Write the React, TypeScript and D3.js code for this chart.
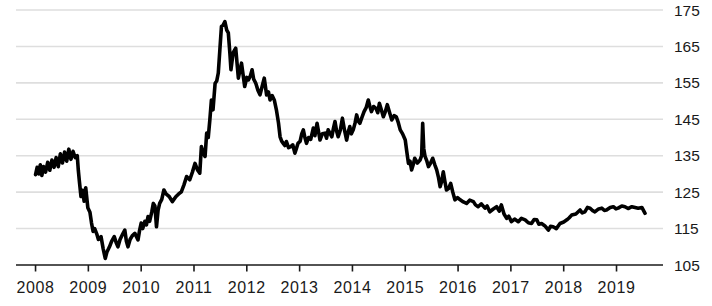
import React from "react";
import * as d3 from "d3";

// Decimal-year time stamps and index values
const dates: number[] = [
  2008.00, 2008.03, 2008.06, 2008.09, 2008.12, 2008.15, 2008.19, 2008.23, 2008.27, 2008.31,
  2008.35, 2008.39, 2008.43, 2008.47, 2008.51, 2008.55, 2008.59, 2008.63, 2008.67, 2008.71,
  2008.75, 2008.79, 2008.81, 2008.83, 2008.86, 2008.89, 2008.92, 2008.95, 2008.99, 2009.03,
  2009.06, 2009.09, 2009.12, 2009.16, 2009.19, 2009.24, 2009.28, 2009.32, 2009.35, 2009.40,
  2009.44, 2009.49, 2009.53, 2009.56, 2009.60, 2009.65, 2009.69, 2009.72, 2009.75, 2009.79,
  2009.83, 2009.88, 2009.94, 2009.97, 2010.00, 2010.03, 2010.07, 2010.10, 2010.13, 2010.16,
  2010.20, 2010.23, 2010.26, 2010.29, 2010.32, 2010.35, 2010.39, 2010.43, 2010.47, 2010.53,
  2010.59, 2010.62, 2010.66, 2010.71, 2010.76, 2010.81, 2010.86, 2010.92, 2010.97, 2011.02,
  2011.07, 2011.11, 2011.14, 2011.18, 2011.21, 2011.24, 2011.27, 2011.30, 2011.33, 2011.36,
  2011.40, 2011.43, 2011.46, 2011.49, 2011.52, 2011.55, 2011.585, 2011.62, 2011.65, 2011.68,
  2011.70, 2011.74, 2011.79, 2011.84, 2011.87, 2011.90, 2011.96, 2012.00, 2012.03, 2012.07,
  2012.10, 2012.13, 2012.17, 2012.21, 2012.25, 2012.29, 2012.33, 2012.375, 2012.41, 2012.44,
  2012.48, 2012.52, 2012.56, 2012.60, 2012.63, 2012.66, 2012.69, 2012.72, 2012.75, 2012.79,
  2012.835, 2012.87, 2012.91, 2012.94, 2012.97, 2013.01, 2013.04, 2013.07, 2013.10, 2013.13,
  2013.17, 2013.21, 2013.26, 2013.29, 2013.33, 2013.36, 2013.385, 2013.43, 2013.48, 2013.51,
  2013.54, 2013.58, 2013.61, 2013.64, 2013.67, 2013.70, 2013.73, 2013.77, 2013.81, 2013.85,
  2013.89, 2013.92, 2013.95, 2013.98, 2014.015, 2014.05, 2014.08, 2014.11, 2014.14, 2014.18,
  2014.22, 2014.26, 2014.30, 2014.33, 2014.36, 2014.40, 2014.445, 2014.48, 2014.51, 2014.55,
  2014.585, 2014.62, 2014.66, 2014.70, 2014.745, 2014.79, 2014.83, 2014.87, 2014.905, 2014.95,
  2015.00, 2015.03, 2015.06, 2015.09, 2015.12, 2015.15, 2015.18, 2015.23, 2015.28, 2015.31,
  2015.33, 2015.35, 2015.375, 2015.41, 2015.44, 2015.48, 2015.52, 2015.56, 2015.595, 2015.63,
  2015.66, 2015.69, 2015.72, 2015.75, 2015.78, 2015.82, 2015.86, 2015.90, 2015.94, 2015.99,
  2016.04, 2016.10, 2016.16, 2016.22, 2016.29, 2016.33, 2016.38, 2016.44, 2016.51, 2016.55,
  2016.60, 2016.66, 2016.73, 2016.78, 2016.82, 2016.87, 2016.92, 2016.96, 2017.01, 2017.07,
  2017.14, 2017.20, 2017.27, 2017.33, 2017.39, 2017.44, 2017.49, 2017.53, 2017.58, 2017.64,
  2017.71, 2017.75, 2017.80, 2017.86, 2017.93, 2018.00, 2018.06, 2018.10, 2018.15, 2018.23,
  2018.31, 2018.35, 2018.40, 2018.45, 2018.50, 2018.55, 2018.59, 2018.66, 2018.72, 2018.77,
  2018.81, 2018.88, 2018.94, 2018.99, 2019.03, 2019.10, 2019.16, 2019.22, 2019.29, 2019.35,
  2019.41, 2019.48, 2019.54,
];

const values: number[] = [
  129.8, 131.8, 130.0, 132.5, 129.6, 132.0, 130.5, 133.2, 131.0, 133.8,
  131.8, 134.5, 132.0, 135.5, 133.0, 136.0, 133.5, 136.8, 134.0, 136.2,
  134.5, 135.0, 131.0, 128.0, 123.8, 125.5, 122.5, 126.2, 120.7, 119.5,
  116.5, 114.2, 115.0, 113.5, 112.0, 112.8, 109.5, 106.8, 108.5, 110.0,
  111.5, 112.8, 111.0, 110.0, 112.0, 113.5, 114.6, 111.5, 110.0, 112.0,
  113.0, 113.7, 111.9, 114.5, 116.5, 115.0, 117.0, 116.0, 118.3, 117.0,
  119.5, 121.9, 121.2, 115.5, 120.0, 121.9, 123.0, 125.6, 124.5, 123.8,
  122.4, 123.0, 123.8, 124.5, 125.1, 127.0, 129.3, 128.4, 130.5, 132.9,
  131.0, 130.2, 137.5, 135.5, 134.8, 141.2, 140.0, 144.8, 150.3, 147.6,
  154.9, 155.5, 157.7, 164.1, 170.5, 170.8, 171.8, 169.5, 168.7, 163.0,
  158.6, 163.2, 164.5, 156.3, 158.5, 160.4, 154.0, 156.5, 155.8, 157.0,
  158.6, 156.0, 154.9, 153.0, 151.7, 154.0, 156.3, 151.7, 152.5, 150.3,
  151.5, 150.3, 147.6, 144.0, 140.2, 139.0, 138.4, 137.8, 138.9, 137.2,
  137.5, 138.0, 135.7, 137.0, 138.4, 139.0, 141.0, 142.1, 140.0, 138.4,
  140.0, 139.5, 142.6, 140.5, 143.9, 141.5, 139.3, 141.0, 141.2, 139.8,
  142.1, 141.0, 140.2, 142.5, 144.4, 141.8, 140.2, 142.0, 145.3, 142.0,
  139.3, 141.5, 143.0, 141.0, 142.1, 144.0, 146.2, 144.5, 143.9, 145.5,
  147.1, 148.2, 150.3, 148.5, 147.1, 148.5, 148.0, 146.8, 149.4, 147.5,
  145.7, 147.0, 149.0, 147.0, 144.8, 146.0, 145.7, 144.0, 142.1, 141.0,
  139.3, 136.0, 132.9, 133.5, 131.1, 132.5, 134.3, 133.0, 133.8, 135.0,
  143.9, 137.0, 134.8, 133.5, 132.0, 133.0, 134.3, 132.5, 131.1, 129.0,
  126.5, 128.0, 130.6, 128.0, 125.6, 126.0, 127.4, 125.0, 122.9, 123.5,
  122.9, 122.3, 121.9, 122.8, 122.4, 121.5, 121.0, 121.8, 120.6, 121.2,
  119.6, 120.3, 121.0, 119.8, 121.5, 119.0, 117.8, 118.4, 116.9, 117.6,
  116.9, 117.8, 117.4, 116.6, 116.4, 117.5, 117.4, 116.2, 116.4, 115.8,
  114.6, 115.6, 115.5, 115.0, 116.4, 116.8, 117.4, 117.9, 118.7, 119.0,
  120.1, 119.3, 119.6, 120.8, 120.6, 119.9, 119.6, 120.4, 120.6, 120.0,
  120.1, 120.8, 121.0, 120.4, 120.6, 121.2, 121.0, 120.5, 121.0, 120.8,
  120.6, 120.8, 119.2,
];

const yearTicks: number[] = [2008, 2009, 2010, 2011, 2012, 2013, 2014, 2015, 2016, 2017, 2018, 2019];
const valueTicks: number[] = [105, 115, 125, 135, 145, 155, 165, 175];

const W = 712;
const H = 306;
const FONT = "'Liberation Sans', Arial, Helvetica, sans-serif";

export default function App() {
  const x = d3.scaleLinear().domain([2007.63, 2019.88]).range([16, 663]);
  const y = d3.scaleLinear().domain([105, 175]).range([265, 10]);

  const points: [number, number][] = dates.map((d, i) => [d, values[i]]);
  const line = d3
    .line<[number, number]>()
    .x((p) => x(p[0]))
    .y((p) => y(p[1]))
    .curve(d3.curveLinear);

  const [x0, x1] = x.range();

  return (
    <svg
      width={W}
      height={H}
      viewBox={`0 0 ${W} ${H}`}
      style={{ position: "absolute", left: 0, top: 0, background: "#fff" }}
    >
      {valueTicks
        .filter((v) => v !== 105)
        .map((v) => (
          <line key={v} x1={x0} x2={x1} y1={y(v)} y2={y(v)} stroke="#dedede" strokeWidth={1.6} />
        ))}
      <path
        d={line(points) ?? ""}
        fill="none"
        stroke="#000"
        strokeWidth={3.6}
        strokeLinejoin="round"
        strokeLinecap="round"
      />
      <line x1={x0} x2={x1} y1={y(105)} y2={y(105)} stroke="#1a1a1a" strokeWidth={1.6} />
      {yearTicks.map((t) => (
        <g key={t}>
          <line x1={x(t)} x2={x(t)} y1={y(105)} y2={y(105) + 6.5} stroke="#1a1a1a" strokeWidth={1.6} />
          <text
            x={x(t)}
            y={293}
            textAnchor="middle"
            fontFamily={FONT}
            fontSize={16}
            letterSpacing={0.6}
            fill="#1a1a1a"
          >
            {t}
          </text>
        </g>
      ))}
      {valueTicks.map((v) => (
        <text
          key={v}
          x={674}
          y={y(v)}
          dy="0.36em"
          fontFamily={FONT}
          fontSize={15.5}
          fill="#1a1a1a"
        >
          {v}
        </text>
      ))}
    </svg>
  );
}
